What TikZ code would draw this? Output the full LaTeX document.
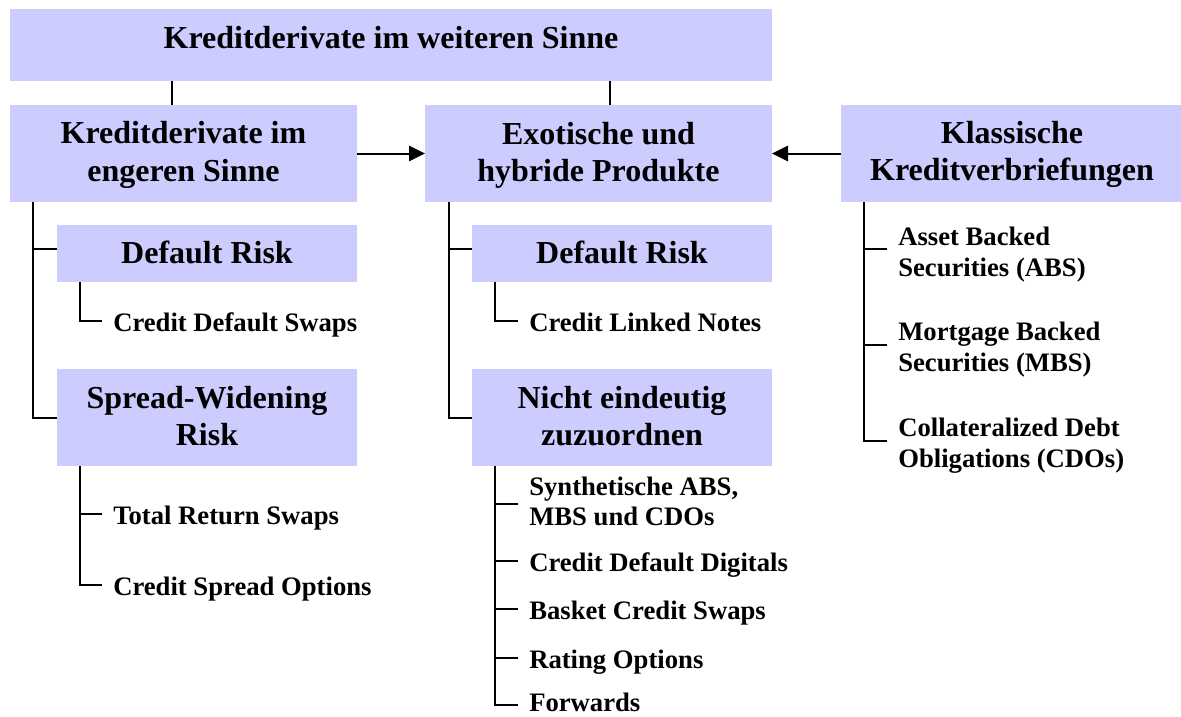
\documentclass[tikz,border=0pt]{standalone}
\usepackage{fontspec}
\setmainfont{Liberation Serif}
\usetikzlibrary{arrows.meta}
\definecolor{boxfill}{HTML}{CCCCFF}
\begin{document}
\begin{tikzpicture}[x=0.75pt,y=-0.75pt,
  box/.style={fill=boxfill,draw=none,inner sep=0pt,outer sep=0pt},
  ttl/.style={font=\bfseries\fontsize{24}{28.1}\selectfont,align=center,inner sep=0pt},
  leaf/.style={font=\bfseries\fontsize{20}{23}\selectfont,inner xsep=8.25pt,inner ysep=0pt},
  leafone/.style={leaf,anchor=base west,text height=15.75pt,text depth=0pt},
  leaftwo/.style={leaf,anchor=north west,align=left},
  link/.style={line width=1.5pt},
  arr/.style={link,-{Triangle[length=12pt,width=11.5pt]}}]
\useasboundingbox (0,0) rectangle (1181,717);
% boxes
\node[box,minimum width=571.5pt,minimum height=54pt] (top) at (391,45) {};
\node[box,minimum width=260.25pt,minimum height=72.75pt] (A) at (183.5,153.5) {};
\node[box,minimum width=260.25pt,minimum height=72.75pt] (B) at (598.5,153.5) {};
\node[box,minimum width=255pt,minimum height=72.75pt] (C) at (1011,153.5) {};
\node[box,minimum width=225pt,minimum height=42.75pt] (A1) at (207,253.5) {};
\node[box,minimum width=225pt,minimum height=42.75pt] (B1) at (622,253.5) {};
\node[box,minimum width=225pt,minimum height=72.75pt] (A2) at (207,417.5) {};
\node[box,minimum width=225pt,minimum height=72.75pt] (B2) at (622,417.5) {};
% titles
\node[ttl,anchor=base] (tTop) at (391,48.3) {Kreditderivate im weiteren Sinne};
\node[ttl,anchor=north] (tA) at (183.5,121.3) {Kreditderivate im\\engeren Sinne};
\node[ttl,anchor=north] (tB) at (598.5,122) {Exotische und\\hybride Produkte};
\node[ttl,anchor=north] (tC) at (1012,121) {Klassische\\Kreditverbriefungen};
\node[ttl,anchor=base] (tA1) at (207,263.3) {Default Risk};
\node[ttl,anchor=base] (tB1) at (622,263.3) {Default Risk};
\node[ttl,anchor=north] (tA2) at (207,386) {Spread-Widening\\Risk};
\node[ttl,anchor=north] (tB2) at (622,386) {Nicht eindeutig\\zuzuordnen};
% leaves
\node[leafone] (cds) at (102,331) {Credit Default Swaps};
\node[leafone] (trs) at (102,524) {Total Return Swaps};
\node[leafone] (cso) at (102,595.7) {Credit Spread Options};
\node[leafone] (cln) at (518,331) {Credit Linked Notes};
\node[leaftwo] (syn) at (518,476.5) {Synthetische ABS,\\MBS und CDOs};
\node[leafone] (cdd) at (518,571) {Credit Default Digitals};
\node[leafone] (bcs) at (518,619.3) {Basket Credit Swaps};
\node[leafone] (rop) at (518,668) {Rating Options};
\node[leafone] (fwd) at (518,711.5) {Forwards};
\node[leaftwo] (abs) at (887,226.6) {Asset Backed\\Securities (ABS)};
\node[leaftwo] (mbs) at (887,321.6) {Mortgage Backed\\Securities (MBS)};
\node[leaftwo] (cdo) at (887,418.1) {Collateralized Debt\\Obligations (CDOs)};
% helper coordinates
\coordinate (xTa) at (172,0);
\coordinate (xTb) at (610,0);
\coordinate (xA) at (33,0);
\coordinate (xB) at (449,0);
\coordinate (xC) at (864,0);
\coordinate (xAs) at (80,0);
\coordinate (xBs) at (495,0);
\coordinate (yb) at (0,249);
\coordinate (ySyn) at (0,504);
\coordinate (yFwd) at (0,705);
\coordinate (yMBS) at (0,345);
\coordinate (yCDO) at (0,441);
% connectors
\draw[link] (top.south -| xTa) -- (A.north -| xTa);
\draw[link] (top.south -| xTb) -- (B.north -| xTb);
\draw[arr] (A.east) -- (B.west);
\draw[arr] (C.west) -- (B.east);
\draw[link] (A.south -| xA) |- (A1.west |- yb);
\draw[link] (A.south -| xA) |- (A2.west);
\draw[link] (A1.south -| xAs) |- (cds.west);
\draw[link] (A2.south -| xAs) |- (trs.west);
\draw[link] (A2.south -| xAs) |- (cso.west);
\draw[link] (B.south -| xB) |- (B1.west |- yb);
\draw[link] (B.south -| xB) |- (B2.west);
\draw[link] (B1.south -| xBs) |- (cln.west);
\draw[link] (B2.south -| xBs) |- (syn.west |- ySyn);
\draw[link] (B2.south -| xBs) |- (cdd.west);
\draw[link] (B2.south -| xBs) |- (bcs.west);
\draw[link] (B2.south -| xBs) |- (rop.west);
\draw[link] (B2.south -| xBs) |- (fwd.west |- yFwd);
\draw[link] (C.south -| xC) |- (abs.west |- yb);
\draw[link] (C.south -| xC) |- (mbs.west |- yMBS);
\draw[link] (C.south -| xC) |- (cdo.west |- yCDO);
\end{tikzpicture}
\end{document}
